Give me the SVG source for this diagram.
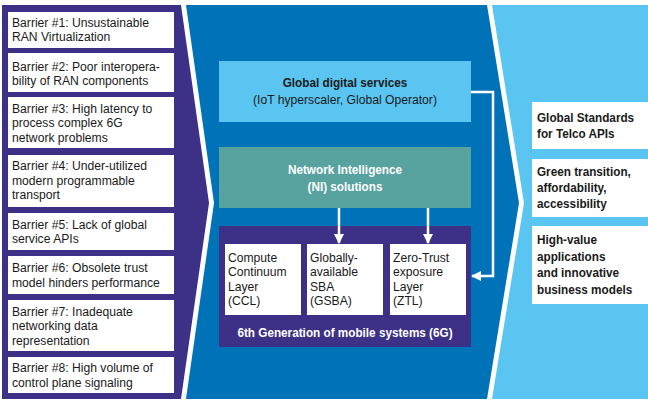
<svg xmlns="http://www.w3.org/2000/svg" width="648" height="403" viewBox="0 0 648 403">
<defs>
<style>
.t{font-family:"Liberation Sans",Arial,sans-serif;font-size:13.5px;fill:#1a1a1a;transform-box:fill-box;transform-origin:0 50%;transform:scaleX(.9)}
.b{font-weight:bold;transform:scaleX(.87)}
.w{fill:#ffffff}
.c{text-anchor:middle;transform-origin:50% 50%}
.box{fill:#ffffff}
.ln{fill:none;stroke:#ffffff;stroke-width:2.5}
</style>
<marker id="ah" viewBox="0 0 10 10" refX="9" refY="5" markerWidth="4" markerHeight="4" orient="auto" markerUnits="strokeWidth">
<path d="M0,0 L10,5 L0,10 Z" fill="#ffffff"/>
</marker>
</defs>
<rect width="648" height="403" fill="#ffffff"/>
<g id="panels">
<polygon points="2,5 181,5 209,203 181,399 2,399" fill="#3c3087"/>
<polygon points="186,5 487,5 519,203 487,399 186,399 214,203" fill="#0072b8"/>
<polygon points="492,5 648,5 648,399 492,399 524,203" fill="#5bc5f2"/>
</g>
<g id="barrier1"><rect class="box" x="8" y="12" width="166" height="36"/><text class="t" x="12" y="27">Barrier #1: Unsustainable</text><text class="t" x="12" y="41.5">RAN Virtualization</text></g>
<g id="barrier2"><rect class="box" x="8" y="53" width="166" height="39"/><text class="t" x="12" y="71">Barrier #2: Poor interopera-</text><text class="t" x="12" y="85.5">bility of RAN components</text></g>
<g id="barrier3"><rect class="box" x="8" y="97" width="166" height="51"/><text class="t" x="12" y="113">Barrier #3: High latency to</text><text class="t" x="12" y="127.5">process complex 6G</text><text class="t" x="12" y="142">network problems</text></g>
<g id="barrier4"><rect class="box" x="8" y="155" width="166" height="52"/><text class="t" x="12" y="170.5">Barrier #4: Under-utilized</text><text class="t" x="12" y="185">modern programmable</text><text class="t" x="12" y="199.5">transport</text></g>
<g id="barrier5"><rect class="box" x="8" y="213" width="166" height="37"/><text class="t" x="12" y="229">Barrier #5: Lack of global</text><text class="t" x="12" y="243.5">service APIs</text></g>
<g id="barrier6"><rect class="box" x="8" y="256" width="166" height="38"/><text class="t" x="12" y="272.5">Barrier #6: Obsolete trust</text><text class="t" x="12" y="287">model hinders performance</text></g>
<g id="barrier7"><rect class="box" x="8" y="300" width="166" height="51"/><text class="t" x="12" y="316">Barrier #7: Inadequate</text><text class="t" x="12" y="330.5">networking data</text><text class="t" x="12" y="345">representation</text></g>
<g id="barrier8"><rect class="box" x="8" y="357" width="166" height="36"/><text class="t" x="12" y="372.5">Barrier #8: High volume of</text><text class="t" x="12" y="387">control plane signaling</text></g>
<g id="global-digital-services"><rect x="219" y="61" width="252" height="61" fill="#5bc5f2"/><text class="t b c" x="345" y="87.5">Global digital services</text><text class="t c" x="345" y="104.5">(IoT hyperscaler, Global Operator)</text></g>
<g id="network-intelligence"><rect x="219" y="147" width="252" height="61" fill="#58a29f"/><text class="t b c w" x="345" y="174">Network Intelligence</text><text class="t b c w" x="345" y="191">(NI) solutions</text></g>
<g id="g6"><rect x="219" y="226" width="252" height="121" fill="#3c3087"/><text class="t b c w" x="345" y="337">6th Generation of mobile systems (6G)</text></g>
<g id="ccl"><rect class="box" x="225" y="244" width="76" height="71"/><text class="t" x="228" y="262">Compute</text><text class="t" x="228" y="276.5">Continuum</text><text class="t" x="228" y="291">Layer</text><text class="t" x="228" y="305.5">(CCL)</text></g>
<g id="gsba"><rect class="box" x="307" y="244" width="76" height="71"/><text class="t" x="310" y="262">Globally-</text><text class="t" x="310" y="276.5">available</text><text class="t" x="310" y="291">SBA</text><text class="t" x="310" y="305.5">(GSBA)</text></g>
<g id="ztl"><rect class="box" x="390" y="244" width="76" height="71"/><text class="t" x="393" y="262">Zero-Trust</text><text class="t" x="393" y="276.5">exposure</text><text class="t" x="393" y="291">Layer</text><text class="t" x="393" y="305.5">(ZTL)</text></g>
<g id="outcome1"><rect class="box" x="532" y="102" width="116" height="47"/><text class="t b" x="537" y="122.5">Global Standards</text><text class="t b" x="537" y="138.5">for Telco APIs</text></g>
<g id="outcome2"><rect class="box" x="532" y="159" width="116" height="58"/><text class="t b" x="537" y="176.5">Green transition,</text><text class="t b" x="537" y="192.5">affordability,</text><text class="t b" x="537" y="208.5">accessibility</text></g>
<g id="outcome3"><rect class="box" x="532" y="226" width="116" height="78"/><text class="t b" x="537" y="244.5">High-value</text><text class="t b" x="537" y="261">applications</text><text class="t b" x="537" y="277.5">and innovative</text><text class="t b" x="537" y="294">business models</text></g>
<g id="connectors">
<line class="ln" x1="339" y1="208" x2="339" y2="243" marker-end="url(#ah)"/>
<line class="ln" x1="428" y1="208" x2="428" y2="243" marker-end="url(#ah)"/>
<polyline class="ln" points="471,92 493,92 493,276 472,276" marker-end="url(#ah)"/>
</g>
</svg>
